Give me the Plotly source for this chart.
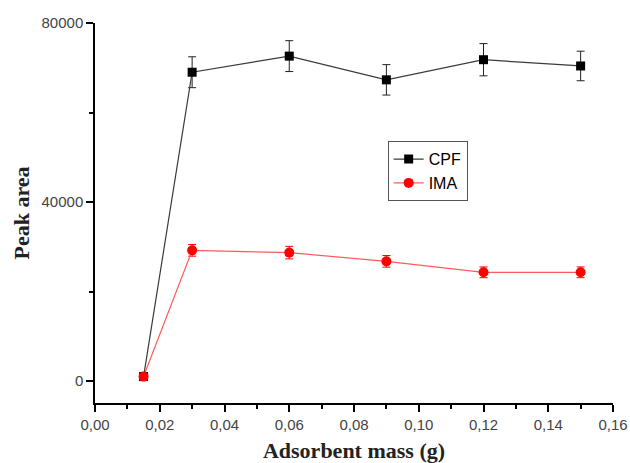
import plotly.graph_objects as go

mass = [0.015, 0.03, 0.06, 0.09, 0.12, 0.15]
cpf = [1000, 69000, 72600, 67300, 71800, 70400]
cpf_err = [500, 3450, 3450, 3400, 3600, 3300]
ima = [1000, 29200, 28700, 26750, 24300, 24300]
ima_err = [400, 1300, 1400, 1300, 1200, 1200]

x_ticks = [0.00, 0.02, 0.04, 0.06, 0.08, 0.10, 0.12, 0.14, 0.16]
y_ticks = [0, 40000, 80000]
y_tick_text = ["0", "40000", "80000"]

fig = go.Figure()
fig.add_trace(go.Scatter(
    x=mass, y=cpf, name="CPF", mode="lines+markers",
    line=dict(color="#3a3a3a", width=1.2),
    marker=dict(symbol="square", size=9, color="black"),
    error_y=dict(type="data", array=cpf_err, visible=True, color="#222", thickness=1, width=4),
))
fig.add_trace(go.Scatter(
    x=mass, y=ima, name="IMA", mode="lines+markers",
    line=dict(color="#ff5a5a", width=1.2),
    marker=dict(symbol="circle", size=10, color="red"),
    error_y=dict(type="data", array=ima_err, visible=True, color="red", thickness=1, width=4),
))

axis_font = dict(family="Liberation Sans, Arial", size=15, color="#444")
title_font = dict(family="Liberation Serif, Times New Roman", size=22, color="#222")

fig.update_layout(
    width=630, height=463,
    margin=dict(l=95, r=17, t=23, b=60),
    paper_bgcolor="white", plot_bgcolor="white",
    separators=",.",
    showlegend=True,
    legend=dict(
        x=0.565, y=0.689, xanchor="left", yanchor="top",
        bordercolor="#555", borderwidth=1, bgcolor="white",
        font=dict(family="Liberation Sans, Arial", size=16, color="black"),
        tracegroupgap=0, itemwidth=30,
    ),
    xaxis=dict(
        range=[0, 0.16], tickvals=x_ticks, tickformat=".2f", automargin=False,
        showline=True, linecolor="black", linewidth=1.5,
        ticks="outside", ticklen=7, tickwidth=1.5, tickcolor="black",
        minor=dict(dtick=0.01, ticks="outside", ticklen=4, tickwidth=1.5, tickcolor="black", showgrid=False),
        showgrid=False, zeroline=False, tickfont=axis_font,
        title=dict(text="<b>Adsorbent mass (g)</b>", font=title_font, standoff=12),
    ),
    yaxis=dict(
        range=[-4900, 80000], tickvals=y_ticks, ticktext=y_tick_text, automargin=False,
        showline=True, linecolor="black", linewidth=1.5,
        ticks="outside", ticklen=7, tickwidth=1.5, tickcolor="black",
        minor=dict(dtick=20000, tick0=0, ticks="outside", ticklen=4, tickwidth=1.5, tickcolor="black", showgrid=False),
        showgrid=False, zeroline=False, tickfont=axis_font,
        title=dict(text="<b>Peak area</b>", font=title_font, standoff=6),
    ),
)

fig.write_html("out.html")
